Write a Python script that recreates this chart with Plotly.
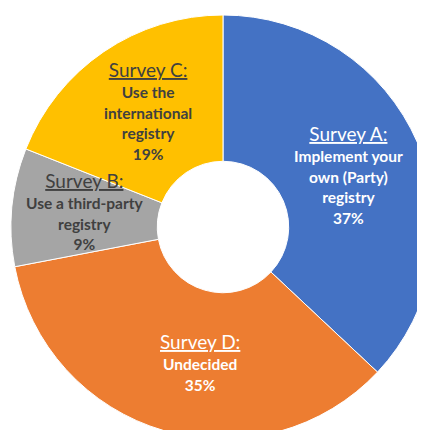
import math
import plotly.graph_objects as go

# ---- data ----
categories = ["Survey A:", "Survey D:", "Survey B:", "Survey C:"]
descriptions = [
    "Implement your<br>own (Party)<br>registry",
    "Undecided",
    "Use a third-party<br>registry",
    "Use the<br>international<br>registry",
]
values = [37, 35, 9, 19]
colors = ["#4472C4", "#ED7D31", "#A5A5A5", "#FFC000"]
text_colors = ["#FFFFFF", "#FFFFFF", "#404040", "#404040"]

# ---- layout constants ----
W, H = 432, 432
CX, CY, R = 215, 219, 212          # pie centre and radius in pixels (page has 8px body margin)
HOLE = 0.31
nudges = [(-2, 3), (16, 2), (0, -3), (3, -2)]  # small label offsets (px)

fig = go.Figure(go.Pie(
    values=values,
    labels=categories,
    sort=False,
    direction="clockwise",
    rotation=0,
    hole=HOLE,
    marker=dict(colors=colors, line=dict(color="#FFFFFF", width=1)),
    textinfo="none",
    hoverinfo="label+percent",
    showlegend=False,
    domain=dict(x=[(CX - R) / W, (CX + R) / W],
                y=[1 - (CY + R) / H, 1 - (CY - R) / H]),
))

total = sum(values)
cum = 0
annotations = []
r_lab = R * (1 + HOLE) / 2
for i, v in enumerate(values):
    mid = (cum + v / 2) / total * 2 * math.pi
    cum += v
    px = CX + r_lab * math.sin(mid) + nudges[i][0]
    py = CY - r_lab * math.cos(mid) + nudges[i][1]
    pct = round(v / total * 100)
    txt = (f"<span style='font-size:19px'><u>{categories[i]}</u></span><br>"
           f"<span style='font-size:15.5px'><b>{descriptions[i]}<br>{pct}%</b></span>")
    annotations.append(dict(
        x=px / W, y=1 - py / H, xref="paper", yref="paper",
        xanchor="center", yanchor="middle", showarrow=False,
        text=txt, align="center",
        font=dict(family="Lato", size=16, color=text_colors[i]),
    ))

fig.update_layout(
    width=W, height=H,
    margin=dict(l=0, r=0, t=0, b=0),
    paper_bgcolor="#FFFFFF",
    plot_bgcolor="#FFFFFF",
    annotations=annotations,
)

fig.write_html("out.html")
